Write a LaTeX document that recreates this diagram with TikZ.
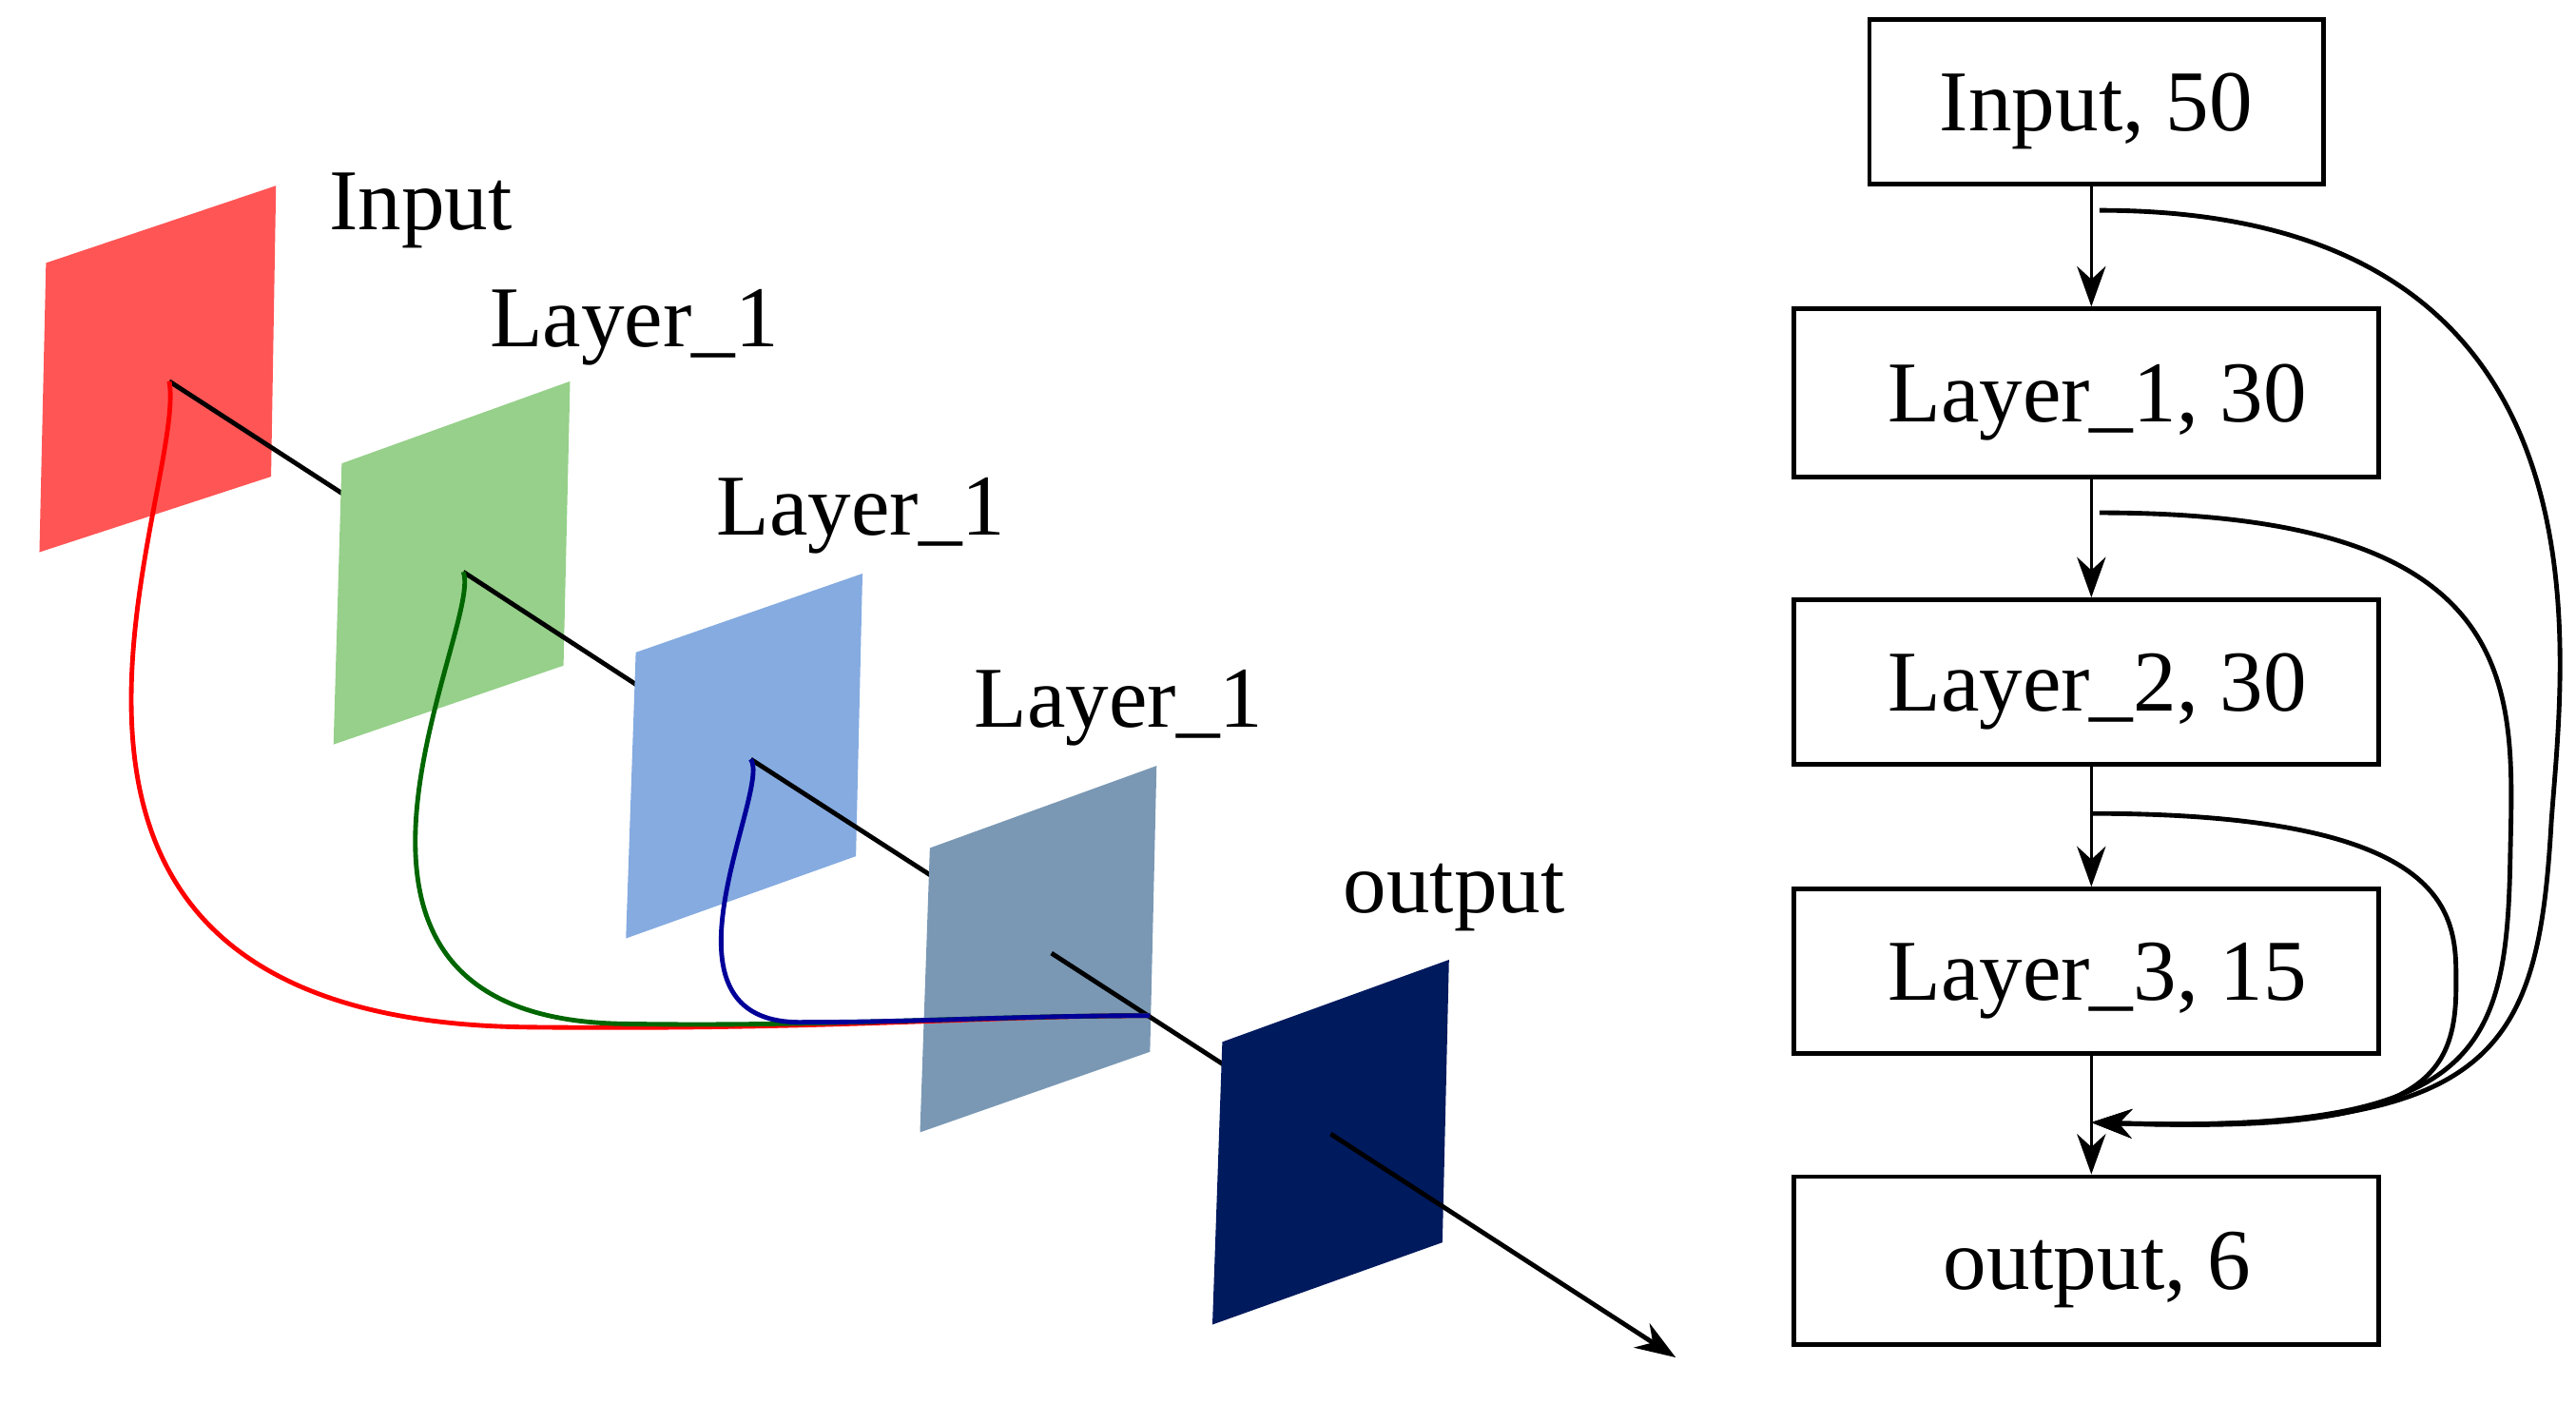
\documentclass[tikz,border=0pt]{standalone}
\usepackage{fontspec}
\setmainfont{Liberation Serif}
\usetikzlibrary{arrows.meta}
\definecolor{cred}{HTML}{FF5555}
\definecolor{cgreen}{HTML}{96D08A}
\definecolor{cblue}{HTML}{85ABE0}
\definecolor{cgray}{HTML}{7A98B4}
\definecolor{cnavy}{HTML}{001A5E}
\begin{document}
\begin{tikzpicture}[x=0.01cm,y=-0.01cm,
  lbl/.style={font=\fontsize{15}{17}\selectfont,inner sep=0pt},
  box/.style={draw,thick,font=\fontsize{15}{17}\selectfont,inner sep=0pt,text depth=0pt},
  arr/.style={-{Stealth[length=7pt,width=5pt]}}]
\useasboundingbox (0,0) rectangle (1568,854);
\coordinate (p0) at (103,232);
\coordinate (p1) at (282,348);
\coordinate (p2) at (457,462);
\coordinate (p3) at (640,580);
\coordinate (p4) at (810,690);
\coordinate (m) at (700,618);
\coordinate (end) at (1020,826);
\fill[cred] (28,160)--(168,113)--(165,290)--(24,336)--cycle;
\draw[thick] (p0)--(p1);
\fill[cgreen] (208,282)--(347,232)--(343,405)--(203,453)--cycle;
\draw[thick] (p1)--(p2);
\fill[cblue] (387,397)--(525,349)--(521,521)--(381,571)--cycle;
\draw[thick] (p2)--(p3);
\fill[cgray] (566,516)--(704,466)--(700,640)--(560,689)--cycle;
\draw[thick] (p3)--(p4);
\draw[red,thick] (p0) .. controls (115,300) and (-40,620) .. (320,625) .. controls (500,627) and (600,618) .. (m);
\draw[black!60!green,thick] (p1) .. controls (295,380) and (160,620) .. (380,623) .. controls (500,625) and (600,618) .. (m);
\draw[blue!60!black,thick] (p2) .. controls (470,480) and (390,625) .. (490,622) .. controls (560,622) and (620,618) .. (m);
\fill[cnavy] (744,634)--(882,584)--(878,756)--(738,806)--cycle;
\draw[thick,arr] (p4)--(end);
\node[lbl] (l0) at (256,128) {Input};
\node[lbl] (l1) at (386,199) {Layer\_1};
\node[lbl] (l2) at (524,314) {Layer\_1};
\node[lbl] (l3) at (681,431) {Layer\_1};
\node[lbl] (l4) at (885,546) {output};
% right
\node[box,minimum width=2.76cm,minimum height=1cm] (b0) at (1276,62) {Input, 50};
\node[box,minimum width=3.56cm,minimum height=1.02cm] (b1) at (1270,239) {\ Layer\_1, 30};
\node[box,minimum width=3.56cm,minimum height=1cm] (b2) at (1270,415) {\ Layer\_2, 30};
\node[box,minimum width=3.56cm,minimum height=1cm] (b3) at (1270,591) {\ Layer\_3, 15};
\node[box,minimum width=3.56cm,minimum height=1.02cm] (b4) at (1270,767) {\ output, 6};
\coordinate (t) at (1273,683);
\draw[arr] (b0.south -| 1273,0) -- (b1.north -| 1273,0);
\draw[arr] (b1.south -| 1273,0) -- (b2.north -| 1273,0);
\draw[arr] (b2.south -| 1273,0) -- (b3.north -| 1273,0);
\draw[arr] (b3.south -| 1273,0) -- (b4.north -| 1273,0);
\draw[thick,arr] (1278,128) .. controls (1600,128) and (1560,400) .. (1553,500) .. controls (1545,640) and (1520,690) .. (t);
\draw[thick,arr] (1278,312) .. controls (1540,312) and (1530,420) .. (1528,520) .. controls (1526,640) and (1510,690) .. (t);
\draw[thick,arr] (1273,495) .. controls (1500,495) and (1495,560) .. (1495,600) .. controls (1495,660) and (1470,690) .. (t);
\end{tikzpicture}
\end{document}
